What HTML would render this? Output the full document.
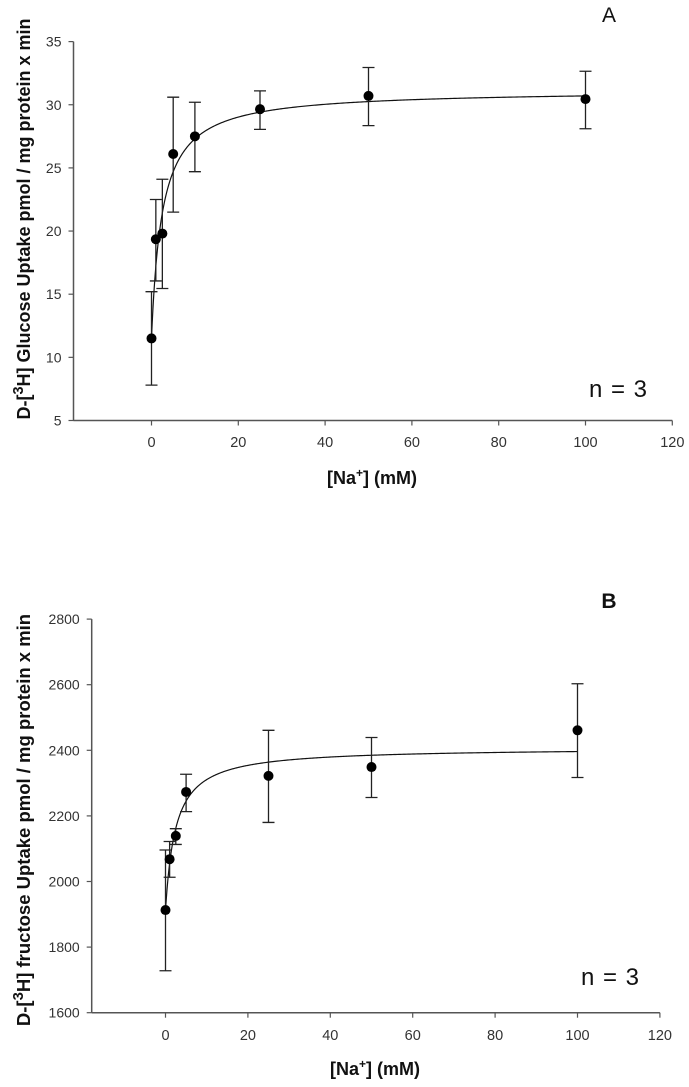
<!DOCTYPE html>
<html>
<head>
<meta charset="utf-8">
<style>
  html,body{margin:0;padding:0;background:#fff;}
  svg{display:block;}
  text{font-family:"Liberation Sans",Arial,sans-serif;}
</style>
</head>
<body>
<svg id="fig" width="689" height="1087" viewBox="0 0 689 1087" xmlns="http://www.w3.org/2000/svg"></svg>
<script>
// ---- Panel A data (glucose) ----
const naA = [0, 1, 2.5, 5, 10, 25, 50, 100];
const glucoseMean = [11.5, 19.35, 19.8, 26.1, 27.5, 29.65, 30.7, 30.45];
const glucoseLow = [7.8, 16.05, 15.45, 21.5, 24.7, 28.05, 28.35, 28.1];
const glucoseHigh = [15.2, 22.5, 24.1, 30.6, 30.2, 31.1, 32.95, 32.65];
const fitA = [11.5, 19.67, 2.45]; // baseline, Vmax, Km
const yTicksA = [5, 10, 15, 20, 25, 30, 35];
const xTicks = [0, 20, 40, 60, 80, 100, 120];

// ---- Panel B data (fructose) ----
const naB = [0, 1, 2.5, 5, 25, 50, 100];
const fructoseMean = [1913, 2068, 2139, 2273, 2322, 2349, 2461];
const fructoseLow = [1728, 2013, 2113, 2213, 2180, 2256, 2317];
const fructoseHigh = [2096, 2122, 2161, 2327, 2461, 2439, 2603];
const fitB = [1910, 498, 2.43];
const yTicksB = [1600, 1800, 2000, 2200, 2400, 2600, 2800];

const NS = "http://www.w3.org/2000/svg";
const svg = document.getElementById('fig');
function el(tag, attrs, parent, txt){
  const e = document.createElementNS(NS, tag);
  for (const k in attrs) e.setAttribute(k, attrs[k]);
  if (txt !== undefined) e.textContent = txt;
  (parent || svg).appendChild(e);
  return e;
}

function panel(cfg){
  const g = el('g', {});
  
  
  const X = v => cfg.x0 + (v - 0) * cfg.xs;
  const Y = v => cfg.yBot - (v - cfg.yMin) * cfg.ys;
  const axc = '#555';
  const ya = el('line', {x1: cfg.axisX, y1: Y(cfg.yMin), x2: cfg.axisX, y2: Y(cfg.yMax), stroke: axc, 'stroke-width': 1.5}, g);
  
  
  const xa = el('line', {x1: cfg.axisX, y1: Y(cfg.yMin), x2: X(120), y2: Y(cfg.yMin), stroke: axc, 'stroke-width': 1.5}, g);
  
  
  cfg.yTicks.forEach(t => {
    const tk = el('line', {x1: cfg.axisX - 5, y1: Y(t), x2: cfg.axisX, y2: Y(t), stroke: axc, 'stroke-width': 1.2}, g);
    
    
    const lb = el('text', {x: cfg.axisX - 12, y: Y(t) + 5, 'text-anchor': 'end', 'font-size': 14, fill: '#333'}, g, String(t));
    
    
  });
  xTicks.forEach(t => {
    const tk = el('line', {x1: X(t), y1: Y(cfg.yMin), x2: X(t), y2: Y(cfg.yMin) + 5, stroke: axc, 'stroke-width': 1.2}, g);
    
    
    const lb = el('text', {x: X(t), y: cfg.xLabY, 'text-anchor': 'middle', 'font-size': 14.5, fill: '#333'}, g, String(t));
    
    
  });
  let d = '';
  for (let i = 0; i <= 400; i++){
    const xv = 100 * Math.pow(i / 400, 2);
    const yv = cfg.fit[0] + cfg.fit[1] * xv / (cfg.fit[2] + xv);
    d += (i ? 'L' : 'M') + X(xv).toFixed(2) + ',' + Y(yv).toFixed(2);
  }
  const c = el('path', {d: d, fill: 'none', stroke: '#111', 'stroke-width': 1.2}, g);
  
  
  cfg.xs_.forEach((xv, i) => {
    const px = X(xv);
    const eb = el('path', {d: `M${px},${Y(cfg.lo[i])}L${px},${Y(cfg.hi[i])}M${px-6},${Y(cfg.lo[i])}L${px+6},${Y(cfg.lo[i])}M${px-6},${Y(cfg.hi[i])}L${px+6},${Y(cfg.hi[i])}`, stroke: '#222', 'stroke-width': 1.3, fill: 'none'}, g);
    
    
    const pt = el('circle', {cx: px, cy: Y(cfg.mean[i]), r: 5, fill: '#000'}, g);
    
    
  });
  const yt = el('text', {x: 0, y: 0, transform: `translate(${cfg.yTitleX},${cfg.yTitleY}) rotate(-90)`, 'text-anchor': 'middle', 'font-size': cfg.yTitleSize, 'font-weight': 'bold', fill: '#111'}, g);
  
  
  el('tspan', {}, yt, 'D-[');
  el('tspan', {dy: -7, 'font-size': cfg.yTitleSize * 0.8}, yt, '3');
  el('tspan', {dy: 7}, yt, 'H] ' + cfg.sugar + ' Uptake pmol / mg protein x min');
  const xt = el('text', {x: cfg.xTitleX, y: cfg.xTitleY, 'text-anchor': 'middle', 'font-size': 18, 'font-weight': 'bold', fill: '#111'}, g);
  
  
  el('tspan', {}, xt, '[Na');
  el('tspan', {dy: -7, 'font-size': 12}, xt, '+');
  el('tspan', {dy: 7}, xt, '] (mM)');
  const pl = el('text', {x: cfg.letterX, y: cfg.letterY, 'text-anchor': 'middle', 'font-size': 21, 'font-weight': cfg.letterBold ? 'bold' : 'normal', fill: '#111'}, g, cfg.letter);
  
  
  const n = el('text', {x: cfg.nX, y: cfg.nY, 'text-anchor': 'middle', 'font-size': 24, 'word-spacing': 2, fill: '#111'}, g, 'n = 3');
  
  
}

panel({name: 'panel-a-glucose', x0: 151.5, xs: 4.34, axisX: 73.5, yMin: 5, yMax: 35, yBot: 420.5, ys: 12.63,
  yTicks: yTicksA, xLabY: 447, fit: fitA, xs_: naA, mean: glucoseMean, lo: glucoseLow, hi: glucoseHigh,
  yTitleX: 30, yTitleY: 219, yTitleSize: 18, sugar: 'Glucose', xTitleX: 372, xTitleY: 484,
  letter: 'A', letterX: 609, letterY: 22, letterBold: false, nX: 618, nY: 397});

panel({name: 'panel-b-fructose', x0: 165.5, xs: 4.12, axisX: 91.7, yMin: 1600, yMax: 2800, yBot: 1012.7, ys: 65.6 / 200,
  yTitleX: 30, yTitleY: 820, yTitleSize: 18.5, sugar: 'fructose', xTitleX: 375, xTitleY: 1075,
  yTicks: yTicksB, xLabY: 1040, fit: fitB, xs_: naB, mean: fructoseMean, lo: fructoseLow, hi: fructoseHigh,
  letter: 'B', letterX: 609, letterY: 608, letterBold: true, nX: 610, nY: 985});
</script>
</body>
</html>
